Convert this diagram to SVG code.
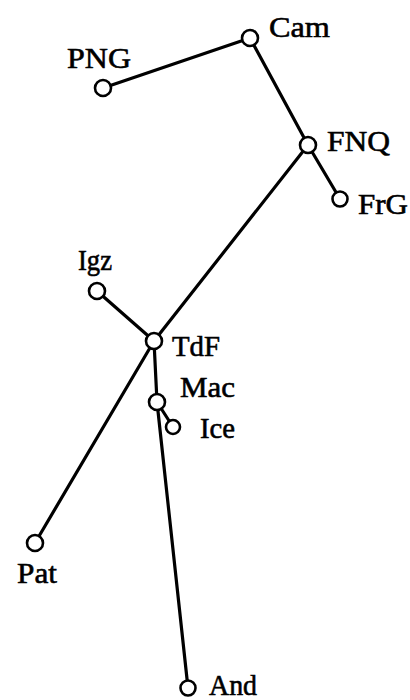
<svg xmlns="http://www.w3.org/2000/svg" width="410" height="700" viewBox="0 0 410 700">
<style>
.e{stroke:#000;stroke-width:3.2;stroke-linecap:round;fill:none}
.n{fill:#fff;stroke:#000;stroke-width:2.6}
.t{font-family:"Liberation Serif","Times New Roman",serif;font-size:30px;fill:#000;stroke:#000;stroke-width:0.6}
</style>
<rect width="410" height="700" fill="#fff"/>
<g id="connectors">
<line class="e" x1="103" y1="88" x2="250" y2="38"/>
<line class="e" x1="250" y1="38" x2="308" y2="145"/>
<line class="e" x1="308" y1="145" x2="340" y2="199"/>
<line class="e" x1="308" y1="145" x2="154" y2="341"/>
<line class="e" x1="154" y1="341" x2="35" y2="543"/>
<line class="e" x1="97" y1="291" x2="154" y2="341"/>
<line class="e" x1="154" y1="341" x2="157" y2="402"/>
<line class="e" x1="157" y1="402" x2="188" y2="688"/>
<line class="e" x1="157" y1="402" x2="173" y2="427"/>
</g>
<g id="Cam"><circle class="n" cx="250" cy="38" r="8"/><text class="t" x="269" y="37" textLength="61" lengthAdjust="spacingAndGlyphs">Cam</text></g>
<g id="PNG"><circle class="n" cx="103" cy="88" r="8"/><text class="t" x="67" y="68" textLength="64" lengthAdjust="spacingAndGlyphs">PNG</text></g>
<g id="FNQ"><circle class="n" cx="308" cy="145" r="8"/><text class="t" x="327" y="151" textLength="63" lengthAdjust="spacingAndGlyphs">FNQ</text></g>
<g id="FrG"><circle class="n" cx="340" cy="199" r="7.5"/><text class="t" x="358" y="214" textLength="50" lengthAdjust="spacingAndGlyphs">FrG</text></g>
<g id="Igz"><circle class="n" cx="97" cy="291" r="8"/><text class="t" x="78" y="270" textLength="34" lengthAdjust="spacingAndGlyphs">Igz</text></g>
<g id="TdF"><circle class="n" cx="154" cy="341" r="8"/><text class="t" x="172" y="356" textLength="48" lengthAdjust="spacingAndGlyphs">TdF</text></g>
<g id="Mac"><circle class="n" cx="157" cy="402" r="8"/><text class="t" x="180" y="397" textLength="55" lengthAdjust="spacingAndGlyphs">Mac</text></g>
<g id="Ice"><circle class="n" cx="173" cy="427" r="7"/><text class="t" x="200" y="438" textLength="35" lengthAdjust="spacingAndGlyphs">Ice</text></g>
<g id="Pat"><circle class="n" cx="35" cy="543" r="8"/><text class="t" x="17" y="583" textLength="40" lengthAdjust="spacingAndGlyphs">Pat</text></g>
<g id="And"><circle class="n" cx="188" cy="688" r="7.5"/><text class="t" x="209" y="695" textLength="48" lengthAdjust="spacingAndGlyphs">And</text></g>
</svg>
